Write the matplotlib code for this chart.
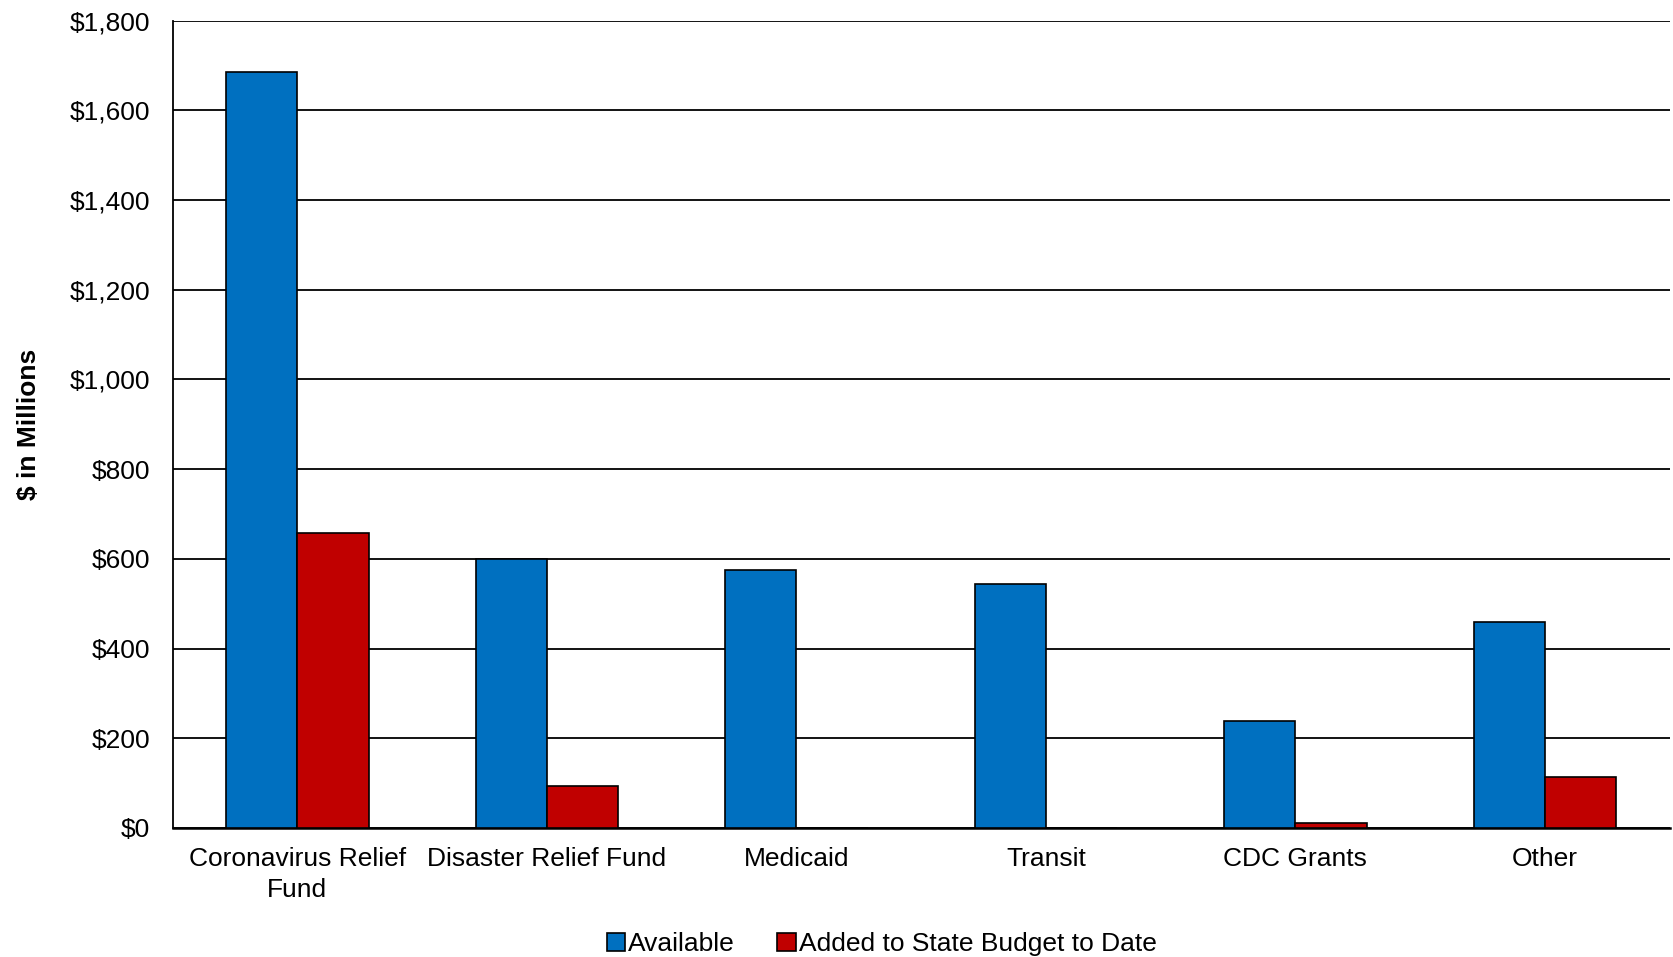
import matplotlib
matplotlib.use("Agg")
import matplotlib.pyplot as plt
import numpy as np
from matplotlib.ticker import FuncFormatter, MultipleLocator

plt.rcParams['font.family'] = ['Liberation Sans', 'DejaVu Sans']

categories = ["Coronavirus Relief\nFund", "Disaster Relief Fund", "Medicaid", "Transit", "CDC Grants", "Other"]
available = [1686, 600, 575, 544, 238, 460]
added = [658, 93, 0, 0, 12, 113]
series_names = ["Available", "Added to State Budget to Date"]

fig = plt.figure(figsize=(16.73, 9.57), dpi=100)
ax = fig.add_axes([0.1032, 0.1348, 0.8948, 0.8436])

x = np.arange(len(categories))
w = 0.2857
ax.bar(x - w/2, available, w, color="#0070C0", edgecolor="black", linewidth=1.2, label=series_names[0], zorder=3)
ax.bar(x + w/2, added, w, color="#C00000", edgecolor="black", linewidth=1.2, label=series_names[1], zorder=3)

fs = 19
ax.set_xlim(-0.5, len(categories) - 0.5)
ax.set_ylim(0, 1800)
ax.yaxis.set_major_locator(MultipleLocator(200))
ax.yaxis.set_major_formatter(FuncFormatter(lambda v, p: f"${v:,.0f}"))
ax.grid(axis='y', color='black', linewidth=1.3, zorder=0)
ax.set_axisbelow(True)
for s in ['top', 'right']:
    ax.spines[s].set_visible(False)
ax.spines['left'].set_linewidth(1.3)
ax.spines['bottom'].set_linewidth(1.8)
ax.set_xticks(x)
ax.set_xticklabels(categories, fontsize=fs, linespacing=1.35)
ax.tick_params(axis='x', length=0, pad=14)
ax.tick_params(axis='y', length=0, pad=16, labelsize=fs)
ax.set_ylabel("$ in Millions", fontsize=fs, fontweight='bold', labelpad=21)

fig.legend(loc='lower center', ncol=2, frameon=False, fontsize=fs,
           handlelength=0.7, handleheight=0.7, handletextpad=0.12, columnspacing=1.6,
           bbox_to_anchor=(0.527, -0.024))

fig.savefig("out.png", dpi=100)
